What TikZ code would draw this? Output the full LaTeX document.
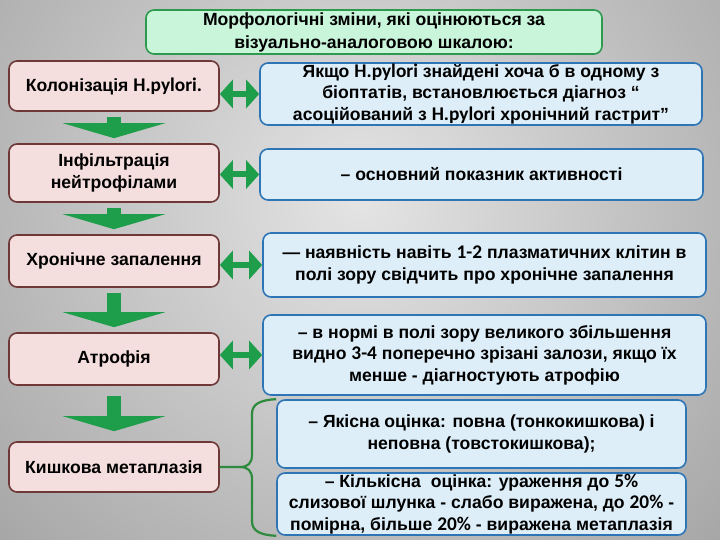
\documentclass[tikz,border=0pt]{standalone}
\usepackage{fontspec}
\setmainfont{Liberation Sans}
\newfontfamily\lat{Carlito}[Scale=1.1]
\usetikzlibrary{arrows.meta}

\definecolor{bgin}{HTML}{E4E4E4}
\definecolor{bgout}{HTML}{7C7C7C}
\definecolor{titlefill}{HTML}{C9F5DA}
\definecolor{titleborder}{HTML}{2E9A4E}
\definecolor{pinkfill}{HTML}{F5DEDE}
\definecolor{pinkborder}{HTML}{6E3838}
\definecolor{bluefill}{HTML}{DDEEF8}
\definecolor{blueborder}{HTML}{2E75B6}
\definecolor{arrowgreen}{HTML}{1E9E4A}
\definecolor{bracegreen}{HTML}{2E8B3E}

\begin{document}
\begin{tikzpicture}[x=1pt,y=-1pt,
    box/.style={rounded corners=8pt, line width=1.6pt, align=center, inner sep=0pt,
      font=\bfseries\fontsize{17.6}{21.5}\selectfont},
    leftbox/.style={box, draw=pinkborder, fill=pinkfill, minimum width=210pt},
    rightbox/.style={box, draw=blueborder, fill=bluefill},
    down/.style={draw=arrowgreen, line width=14pt, -{Triangle[length=15pt,width=102pt]}},
    both/.style={draw=arrowgreen, line width=6pt,
      {Triangle[length=13pt,width=28pt]}-{Triangle[length=13pt,width=28pt]}},
    brace/.style={draw=bracegreen, line width=2.2pt}]

  \useasboundingbox (0,0) rectangle (720,540);
  \begin{scope}
    \clip (0,0) rectangle (720,540);
    \shade[inner color=bgin, outer color=bgout] (-480,-640) rectangle (1200,1040);
  \end{scope}

  \node[box, draw=titleborder, fill=titlefill, minimum width=456pt, minimum height=44pt,
    font=\bfseries\fontsize{17.6}{23}\selectfont] (title) at (374,32)
    {Морфологічні зміни, які оцінюються за\\ візуально-аналоговою шкалою:};

  \node[leftbox, minimum height=50pt] (kol) at (114,86) {Колонізація {\lat H.pylori.}};
  \node[leftbox, minimum height=58pt] (inf) at (114,173) {Інфільтрація\\ нейтрофілами};
  \node[leftbox, minimum height=52pt] (chron) at (114,261) {Хронічне запалення};
  \node[leftbox, minimum height=52pt] (atr) at (114,359) {Атрофія};
  \node[leftbox, minimum height=50pt] (kish) at (114,467) {Кишкова метаплазія};

  \node[rightbox, minimum width=442pt, minimum height=62pt] (r1) at (481,94)
    {Якщо {\lat H.pylori} знайдені хоча б в одному з\\ біоптатів, встановлюється діагноз “\\
     асоційований з {\lat H.pylori} хронічний гастрит”};
  \node[rightbox, minimum width=443pt, minimum height=51pt] (r2) at (481.5,174.5)
    {– основний показник активності};
  \node[rightbox, minimum width=443pt, minimum height=64pt] (r3) at (484.5,265)
    {— наявність навіть {\lat 1-2} плазматичних клітин в\\ полі зору свідчить про хронічне запалення};
  \node[rightbox, minimum width=443pt, minimum height=80pt] (r4) at (484.5,355)
    {– в нормі в полі зору великого збільшення\\ видно {\lat 3-4} поперечно зрізані залози, якщо їх\\
     менше - діагностують атрофію};
  \node[rightbox, minimum width=409pt, minimum height=68pt] (r5) at (481.5,434)
    {– Якісна оцінка: повна (тонкокишкова) і\\ неповна (товстокишкова);};
  \node[rightbox, minimum width=409pt, minimum height=62pt] (r6) at (481.5,504)
    {– Кількісна\ \ оцінка: ураження до {\lat 5\%}\\ слизової шлунка - слабо виражена, до {\lat 20\%} -\\
     помірна, більше {\lat 20\%} - виражена метаплазія};

  \foreach \a/\b/\s in {kol/inf/5,inf/chron/5,chron/atr/5,atr/kish/10}
    \draw[down, shorten <=\s pt, shorten >=\s pt] (\a.south) -- (\b.north);

  \foreach \a/\b in {kol/r1,inf/r2,chron/r3,atr/r4}
    \draw[both] (\a.east |- \b.west) -- (\b.west);

  \draw[brace] (r5.north west) .. controls (260,400) and (252,404) .. (252,414) -- (252,455)
    .. controls (252,463) and (248,467) .. (240,467) -- (kish.east);
  \draw[brace] (r6.south west) .. controls (260,535) and (252,531) .. (252,521) -- (252,479)
    .. controls (252,471) and (248,467) .. (240,467);
\end{tikzpicture}
\end{document}
